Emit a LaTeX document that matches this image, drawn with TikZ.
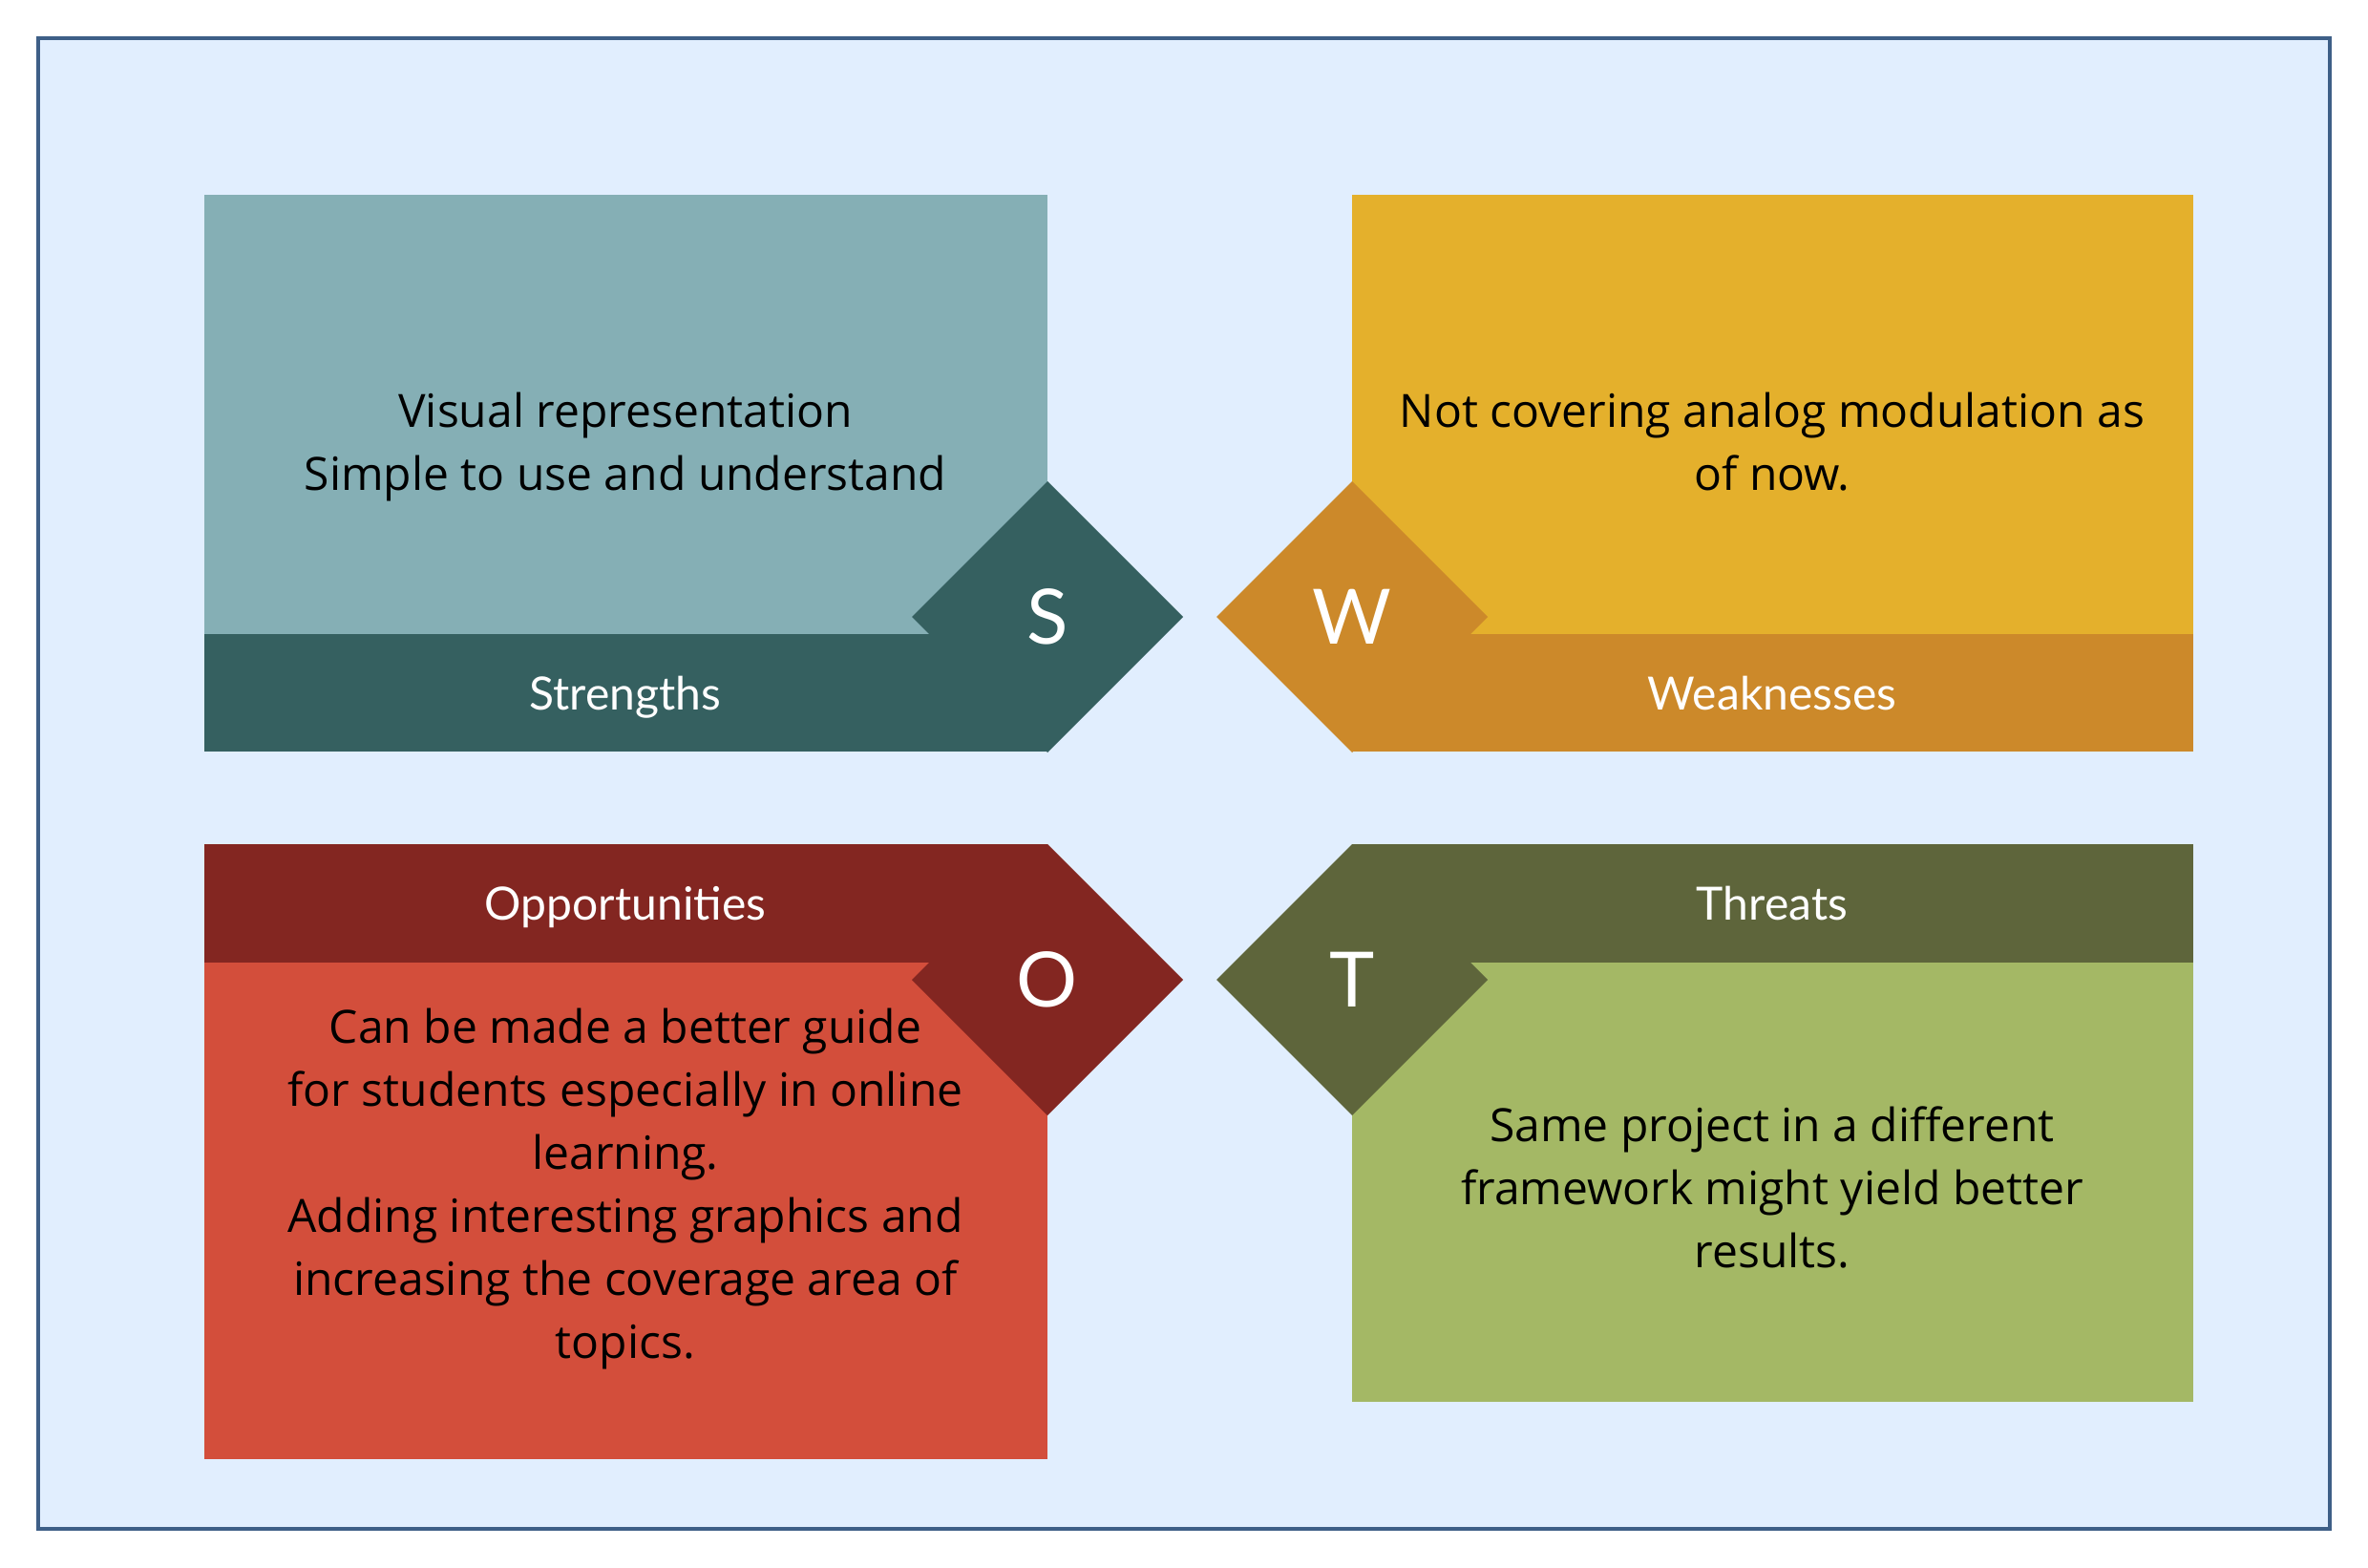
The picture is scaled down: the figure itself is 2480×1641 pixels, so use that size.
\documentclass[tikz,border=0pt]{standalone}
\usepackage{fontspec}
\setmainfont{Open Sans}
\newfontfamily\labelfont{Lato}
\usetikzlibrary{shapes.geometric}

\definecolor{frameFill}{HTML}{E1EEFE}
\definecolor{frameLine}{HTML}{3E5F87}
\definecolor{sLight}{HTML}{85AFB5}
\definecolor{sDark}{HTML}{356060}
\definecolor{wLight}{HTML}{E4B02C}
\definecolor{wDark}{HTML}{CC892A}
\definecolor{oLight}{HTML}{D34E3B}
\definecolor{oDark}{HTML}{832621}
\definecolor{tLight}{HTML}{A4B865}
\definecolor{tDark}{HTML}{5E653B}

\tikzset{
  badge/.style={diamond, draw=none, inner sep=0pt, outer sep=0pt,
    minimum width=284pt, minimum height=284pt, aspect=1,
    text=white, font=\labelfont\fontsize{80}{96}\selectfont},
  caption/.style={anchor=base, text=white, inner sep=0pt,
    font=\labelfont\fontsize{48}{58}\selectfont},
  body/.style={text=black, align=center, font=\fontsize{48}{66}\selectfont}
}

\begin{document}
\begin{tikzpicture}[x=1pt, y=-1pt]
  % page and frame
  \useasboundingbox (0,0) rectangle (2480,1641);
  \fill[white] (0,0) rectangle (2480,1641);
  \draw[frameLine, fill=frameFill, line width=4pt] (40,40) rectangle (2440,1601);

  % Strengths
  \fill[sLight] (214,204) rectangle (1097,664);
  \fill[sDark] (214,664) rectangle (1097,787);
  \node[badge, fill=sDark] (sBadge) at (1097,646) {S};
  \node[caption] (sCap) at (655,743) {Strengths};
  \node[body] (sText) at (655,468) {Visual representation\\Simple to use and understand};

  % Weaknesses
  \fill[wLight] (1416,204) rectangle (2297,664);
  \fill[wDark] (1416,664) rectangle (2297,787);
  \node[badge, fill=wDark] (wBadge) at (1416,646) {W};
  \node[caption] (wCap) at (1856,743) {Weaknesses};
  \node[body] (wText) at (1856,463) {Not covering analog modulation as\\of now.};

  % Opportunities
  \fill[oDark] (214,884) rectangle (1097,1008);
  \fill[oLight] (214,1008) rectangle (1097,1528);
  \node[badge, fill=oDark] (oBadge) at (1097,1026) {O};
  \node[caption] (oCap) at (655,963) {Opportunities};
  \node[body] (oText) at (655,1245) {Can be made a better guide\\for students especially in online\\learning.\\Adding interesting graphics and\\increasing the coverage area of\\topics.};

  % Threats
  \fill[tDark] (1416,884) rectangle (2297,1008);
  \fill[tLight] (1416,1008) rectangle (2297,1468);
  \node[badge, fill=tDark] (tBadge) at (1416,1026) {T};
  \node[caption] (tCap) at (1856,963) {Threats};
  \node[body] (tText) at (1856,1243) {Same project in a different\\framework might yield better\\results.};
\end{tikzpicture}
\end{document}
